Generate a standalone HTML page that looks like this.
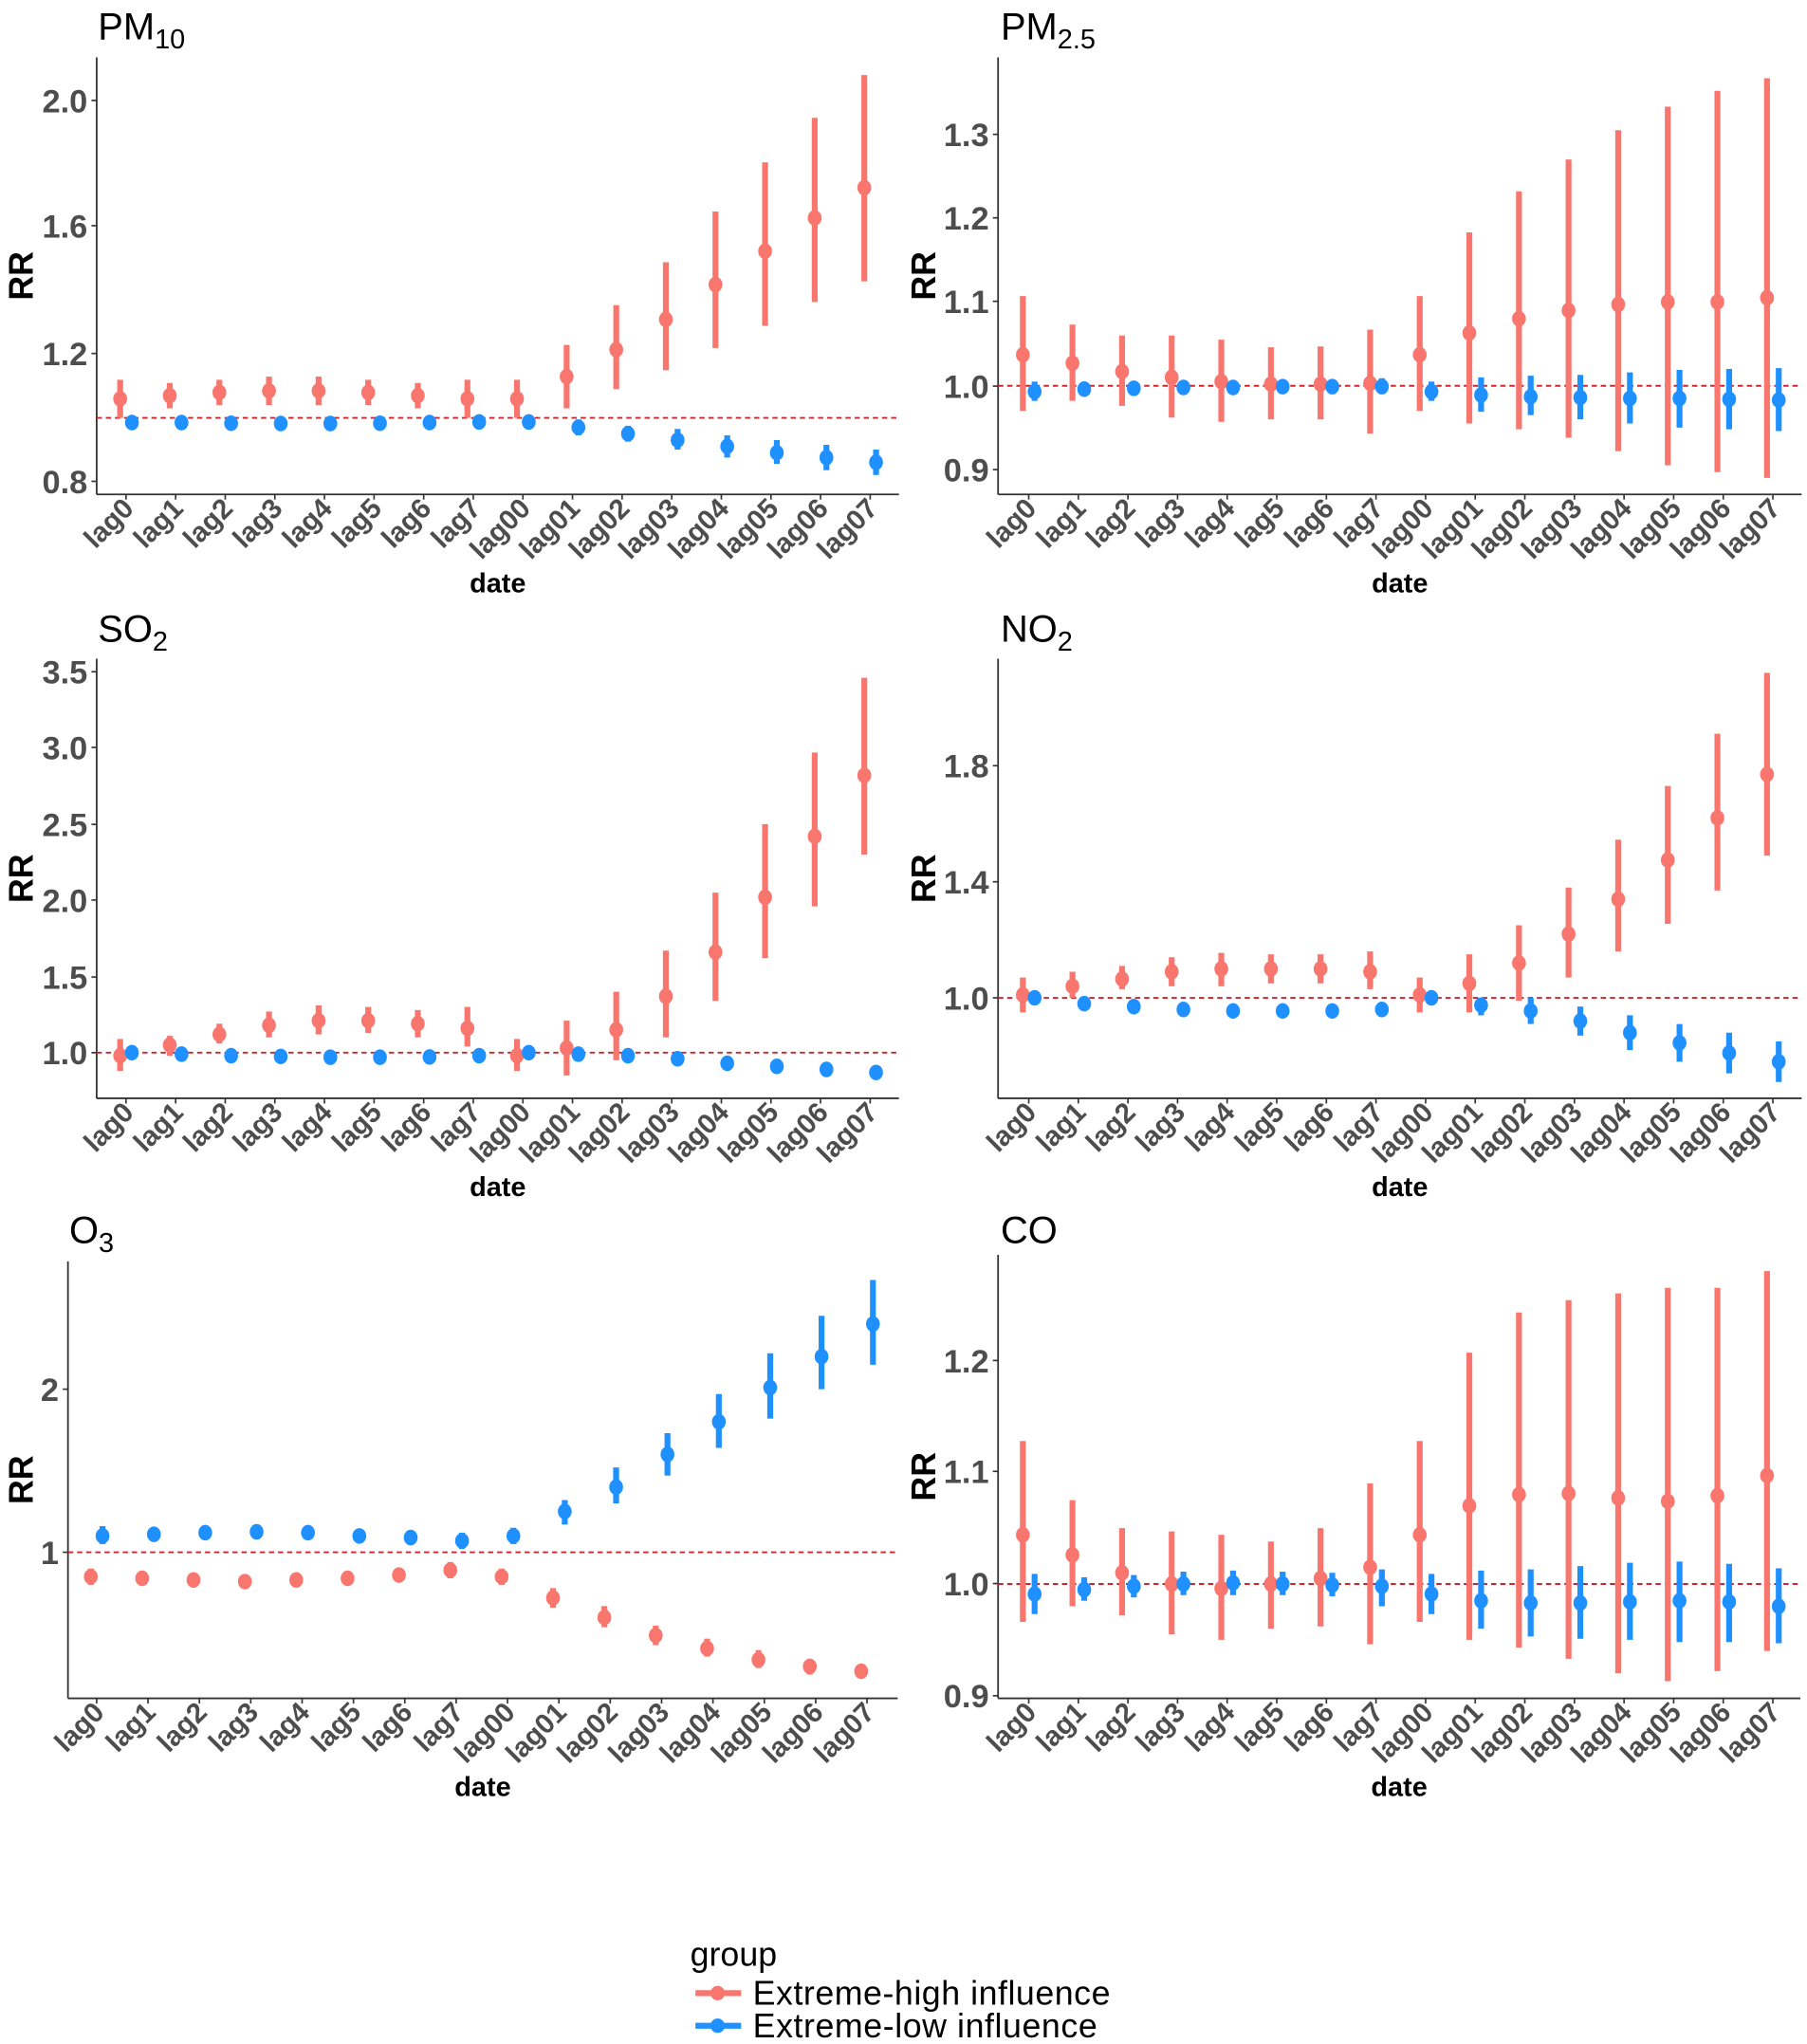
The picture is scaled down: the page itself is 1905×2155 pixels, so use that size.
<!DOCTYPE html>
<html><head><meta charset="utf-8"><style>html,body{margin:0;padding:0;background:#fff}svg{display:block}</style></head>
<body>
<svg id="s" xmlns="http://www.w3.org/2000/svg" width="1905" height="2155" viewBox="0 0 1385 1567" font-family="Liberation Sans, sans-serif"></svg>
<script>
var R="#F8766D",B="#1E90FF";
var labs=["lag0","lag1","lag2","lag3","lag4","lag5","lag6","lag7","lag00","lag01","lag02","lag03","lag04","lag05","lag06","lag07"];
var P=[
{t:"PM",sub:"10",tx:75,ty:30,L:74,Rt:689,T:44,Bt:379,x0:96.5,dx:38.03,ticks:[[2.0,77,"2.0"],[1.6,173,"1.6"],[1.2,271,"1.2"],[0.8,369,"0.8"]],
r:[[1.06,1.0,1.12],[1.07,1.03,1.11],[1.08,1.04,1.12],[1.085,1.04,1.13],[1.085,1.04,1.13],[1.08,1.04,1.12],[1.07,1.03,1.11],[1.06,1.0,1.12],[1.06,1.0,1.12],[1.13,1.03,1.23],[1.215,1.09,1.355],[1.31,1.15,1.49],[1.42,1.22,1.65],[1.525,1.29,1.805],[1.63,1.365,1.945],[1.725,1.43,2.08]],
b:[[.985,.97,1.0],[.985,.975,.995],[.983,.975,.993],[.982,.973,.992],[.982,.973,.992],[.983,.974,.993],[.985,.976,.995],[.987,.97,1.005],[.987,.97,1.005],[.97,.945,.995],[.95,.925,.975],[.93,.9,.965],[.91,.875,.945],[.89,.855,.93],[.875,.835,.915],[.86,.82,.9]]},
{t:"PM",sub:"2.5",tx:767,ty:30,L:765,Rt:1381,T:44,Bt:379,x0:788.5,dx:38.03,ticks:[[1.3,103,"1.3"],[1.2,167,"1.2"],[1.1,231,"1.1"],[1.0,296,"1.0"],[0.9,360,"0.9"]],
r:[[1.037,.97,1.107],[1.027,.982,1.073],[1.017,.976,1.06],[1.01,.962,1.06],[1.005,.957,1.055],[1.002,.96,1.046],[1.002,.96,1.047],[1.003,.943,1.067],[1.037,.97,1.107],[1.063,.955,1.183],[1.08,.948,1.232],[1.09,.938,1.27],[1.097,.922,1.305],[1.1,.905,1.333],[1.1,.897,1.352],[1.105,.89,1.367]],
b:[[.993,.982,1.005],[.996,.988,1.003],[.997,.99,1.003],[.998,.99,1.005],[.998,.99,1.006],[.999,.992,1.005],[.999,.99,1.006],[.999,.99,1.009],[.993,.982,1.005],[.989,.969,1.01],[.987,.965,1.012],[.986,.96,1.013],[.985,.955,1.016],[.985,.95,1.019],[.984,.948,1.02],[.983,.946,1.021]]},
{t:"SO",sub:"2",tx:75,ty:492,L:74,Rt:689,T:505,Bt:842,x0:96.5,dx:38.03,ticks:[[3.5,515,"3.5"],[3.0,573,"3.0"],[2.5,632,"2.5"],[2.0,690,"2.0"],[1.5,749,"1.5"],[1.0,807,"1.0"]],
r:[[.98,.88,1.09],[1.05,.98,1.11],[1.12,1.06,1.19],[1.18,1.1,1.27],[1.21,1.12,1.31],[1.21,1.13,1.3],[1.19,1.1,1.28],[1.16,1.04,1.3],[.98,.88,1.09],[1.03,.85,1.21],[1.15,.95,1.4],[1.37,1.1,1.67],[1.66,1.34,2.05],[2.02,1.62,2.5],[2.42,1.96,2.97],[2.82,2.3,3.46]],
b:[[1.0,.99,1.01],[.99,.98,1.0],[.98,.97,.99],[.975,.965,.985],[.97,.96,.98],[.97,.96,.98],[.972,.962,.982],[.98,.97,.99],[1.0,.99,1.01],[.99,.98,1.0],[.98,.97,.99],[.96,.935,.985],[.93,.905,.955],[.91,.885,.935],[.89,.865,.915],[.87,.845,.895]]},
{t:"NO",sub:"2",tx:767,ty:492,L:765,Rt:1381,T:505,Bt:842,x0:788.5,dx:38.03,ticks:[[1.8,587,"1.8"],[1.4,676,"1.4"],[1.0,765,"1.0"]],
r:[[1.01,.95,1.07],[1.04,1.0,1.09],[1.065,1.03,1.11],[1.09,1.04,1.14],[1.1,1.04,1.155],[1.1,1.05,1.15],[1.1,1.05,1.15],[1.09,1.03,1.16],[1.01,.95,1.07],[1.05,.95,1.15],[1.12,.99,1.25],[1.22,1.07,1.38],[1.34,1.16,1.545],[1.475,1.255,1.73],[1.62,1.37,1.91],[1.77,1.49,2.12]],
b:[[1.0,.98,1.02],[.98,.97,.99],[.97,.96,.98],[.96,.95,.97],[.955,.945,.965],[.955,.945,.965],[.955,.945,.965],[.96,.94,.98],[1.0,.98,1.02],[.975,.94,1.0],[.955,.91,1.0],[.92,.87,.97],[.88,.82,.94],[.845,.78,.91],[.81,.74,.88],[.78,.71,.85]]},
{t:"O",sub:"3",tx:53,ty:953,L:52,Rt:688,T:967,Bt:1302,x0:74,dx:39.37,ticks:[[2,1065,"2"],[1,1190,"1"]],
r:[[.85,.8,.9],[.84,.81,.87],[.83,.8,.86],[.82,.79,.86],[.83,.79,.87],[.84,.81,.88],[.86,.83,.9],[.89,.84,.94],[.85,.8,.9],[.72,.66,.78],[.6,.54,.67],[.49,.43,.55],[.41,.36,.47],[.34,.29,.4],[.3,.25,.34],[.27,.23,.31]],
b:[[1.1,1.05,1.16],[1.11,1.08,1.15],[1.12,1.09,1.15],[1.125,1.08,1.17],[1.12,1.08,1.15],[1.1,1.07,1.14],[1.09,1.06,1.12],[1.07,1.02,1.12],[1.1,1.05,1.15],[1.25,1.17,1.32],[1.4,1.3,1.52],[1.6,1.47,1.73],[1.8,1.64,1.97],[2.01,1.82,2.22],[2.2,2.0,2.45],[2.4,2.15,2.67]]},
{t:"CO",sub:"",tx:767,ty:953,L:765,Rt:1380,T:962,Bt:1302,x0:788.5,dx:38.03,ticks:[[1.2,1043,"1.2"],[1.1,1128,"1.1"],[1.0,1214,"1.0"],[0.9,1300,"0.9"]],
r:[[1.044,.966,1.128],[1.026,.98,1.075],[1.01,.972,1.05],[1.0,.955,1.047],[.996,.95,1.044],[1.0,.96,1.038],[1.005,.962,1.05],[1.015,.946,1.09],[1.044,.966,1.128],[1.07,.95,1.207],[1.08,.943,1.243],[1.081,.933,1.254],[1.077,.92,1.26],[1.074,.913,1.265],[1.079,.922,1.265],[1.097,.94,1.28]],
b:[[.991,.973,1.009],[.995,.985,1.006],[.998,.988,1.008],[1.0,.99,1.011],[1.001,.99,1.012],[1.0,.99,1.011],[.999,.989,1.01],[.998,.98,1.013],[.991,.973,1.009],[.985,.96,1.012],[.983,.953,1.013],[.983,.951,1.016],[.984,.95,1.019],[.985,.948,1.02],[.984,.948,1.018],[.98,.947,1.014]]}
];
var h="";
P.forEach(function(p){
  var t0=p.ticks[0],t1=p.ticks[p.ticks.length-1];
  var k=(t1[1]-t0[1])/(t1[0]-t0[0]);
  function Y(v){return t0[1]+(v-t0[0])*k;}
  h+='<text x="'+p.tx+'" y="'+p.ty+'" font-size="29" fill="#000">'+p.t+(p.sub?'<tspan font-size="21" dy="7">'+p.sub+'</tspan>':'')+'</text>';
  h+='<line x1="'+p.L+'" y1="'+p.T+'" x2="'+p.L+'" y2="'+p.Bt+'" stroke="#333" stroke-width="1.3"/>';
  h+='<line x1="'+p.L+'" y1="'+p.Bt+'" x2="'+p.Rt+'" y2="'+p.Bt+'" stroke="#333" stroke-width="1.3"/>';
  p.ticks.forEach(function(t){
    h+='<line x1="'+(p.L-4)+'" y1="'+t[1]+'" x2="'+p.L+'" y2="'+t[1]+'" stroke="#333" stroke-width="1.2"/>';
    h+='<text x="'+(p.L-7)+'" y="'+(t[1]+9)+'" font-size="25" font-weight="bold" fill="#4d4d4d" text-anchor="end">'+t[2]+'</text>';
  });
  var cy=(p.T+p.Bt)/2;
  h+='<text transform="translate('+(p.L<100?25:717)+','+cy+') rotate(-90)" font-size="26" font-weight="bold" text-anchor="middle" fill="#000">RR</text>';
  h+='<line x1="'+p.L+'" y1="'+Y(1)+'" x2="'+p.Rt+'" y2="'+Y(1)+'" stroke="#C8272D" stroke-width="1.4" stroke-dasharray="4,3"/>';
  labs.forEach(function(l,i){
    var x=p.x0+i*p.dx;
    h+='<line x1="'+x+'" y1="'+p.Bt+'" x2="'+x+'" y2="'+(p.Bt+4)+'" stroke="#333" stroke-width="1.2"/>';
    h+='<text transform="translate('+(x+7)+','+(p.Bt+12)+') rotate(-45)" font-size="21.5" font-weight="bold" fill="#4d4d4d" text-anchor="end">'+l+'</text>';
    [[p.r[i],R,-4.5],[p.b[i],B,4.5]].forEach(function(s){
      var d=s[0],xx=x+s[2];
      h+='<line x1="'+xx+'" y1="'+Y(d[1])+'" x2="'+xx+'" y2="'+Y(d[2])+'" stroke="'+s[1]+'" stroke-width="4.5"/>';
      h+='<ellipse cx="'+xx+'" cy="'+Y(d[0])+'" rx="5.3" ry="6" fill="'+s[1]+'"/>';
    });
  });
  h+='<text x="'+((p.L+p.Rt)/2)+'" y="'+(p.Bt+75)+'" font-size="21" font-weight="bold" text-anchor="middle" fill="#000">date</text>';
});
h+='<text x="529" y="1507" font-size="26" fill="#000">group</text>';
h+='<line x1="533" y1="1528" x2="568" y2="1528" stroke="'+R+'" stroke-width="4.5"/><circle cx="550" cy="1528" r="5.5" fill="'+R+'"/>';
h+='<text x="577" y="1537" font-size="26" fill="#000" textLength="274">Extreme-high influence</text>';
h+='<line x1="533" y1="1553" x2="568" y2="1553" stroke="'+B+'" stroke-width="4.5"/><circle cx="550" cy="1553" r="5.5" fill="'+B+'"/>';
h+='<text x="577" y="1562" font-size="26" fill="#000" textLength="264">Extreme-low influence</text>';
document.getElementById("s").innerHTML=h;
</script>
</body></html>
